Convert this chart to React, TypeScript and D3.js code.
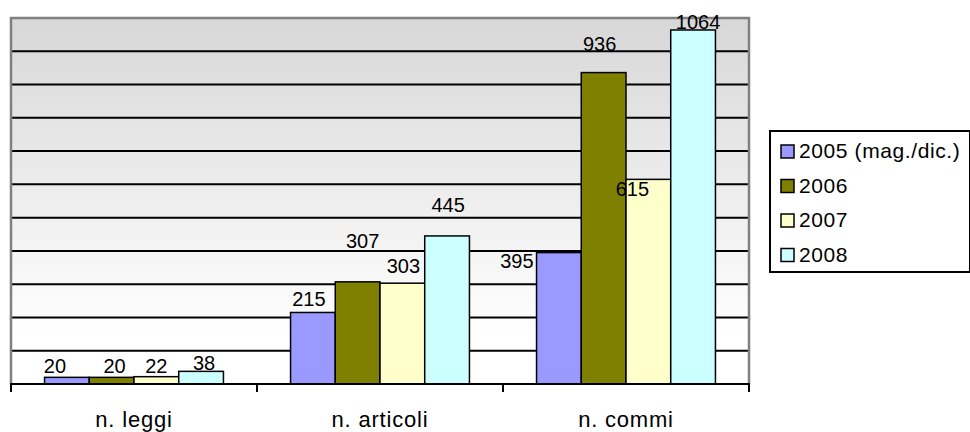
import React from 'react'
import * as d3 from 'd3'

// chart data
const categories = ['n. leggi', 'n. articoli', 'n. commi']
const seriesNames = ['2005 (mag./dic.)', '2006', '2007', '2008']
const seriesColors = ['#9999ff', '#808000', '#ffffcc', '#ccffff']
const values2005 = [20, 215, 395]
const values2006 = [20, 307, 936]
const values2007 = [22, 303, 615]
const values2008 = [38, 445, 1064]
const yTicks = [0, 100, 200, 300, 400, 500, 600, 700, 800, 900, 1000, 1100]

const seriesValues = [values2005, values2006, values2007, values2008]

// label nudges (Excel placed some labels by hand): [dx, baseline offset from bar top]
const labelNudge: [number, number][][] = [
  [[-12, -4], [-4, -6], [-42, 15]],
  [[3, -4], [5, -34], [-4, -22]],
  [[0, -3.5], [1, -10], [-16, 17]],
  [[3, -1.5], [1, -24], [5, -1]],
]

const W = 970
const H = 432
const plot = { left: 11, right: 749, top: 18, bottom: 384 }
const FONT = '"Liberation Sans", Arial, sans-serif'

export default function App() {
  const x0 = d3.scaleBand<string>().domain(categories).range([plot.left, plot.right]).padding(0)
  const x1 = d3
    .scaleBand<string>()
    .domain(seriesNames)
    .range([0, x0.bandwidth()])
    .paddingInner(0)
    .paddingOuter(0.75)
  const y = d3.scaleLinear().domain([0, 1100]).range([plot.bottom, plot.top])

  const tickXs = [...categories.map(c => x0(c)!), plot.right]

  return (
    <svg
      width={W}
      height={H}
      style={{ position: 'absolute', left: 0, top: 0, background: '#fff' }}
      fontFamily={FONT}
    >
      <defs>
        <linearGradient id="bg" x1="0" y1="0" x2="0" y2="1">
          <stop offset="0" stopColor="#d7d7d7" />
          <stop offset="0.87" stopColor="#ffffff" />
          <stop offset="1" stopColor="#ffffff" />
        </linearGradient>
      </defs>

      {/* plot background */}
      <rect
        x={plot.left}
        y={plot.top}
        width={plot.right - plot.left}
        height={plot.bottom - plot.top}
        fill="url(#bg)"
      />

      {/* gridlines */}
      {yTicks.slice(1, -1).map(t => (
        <line key={t} x1={plot.left} x2={plot.right} y1={y(t)} y2={y(t)} stroke="#000" strokeWidth={2} />
      ))}

      {/* gray frame top / left / right */}
      <path
        d={`M${plot.left},${plot.bottom} V${plot.top} H${plot.right} V${plot.bottom}`}
        fill="none"
        stroke="#808080"
        strokeWidth={2.5}
      />

      {/* bars */}
      {categories.map((c, ci) =>
        seriesNames.map((s, si) => {
          const v = seriesValues[si][ci]
          return (
            <rect
              key={`${c}-${s}`}
              x={x0(c)! + x1(s)!}
              y={y(v)}
              width={x1.bandwidth()}
              height={y(0) - y(v)}
              fill={seriesColors[si]}
              stroke="#000"
              strokeWidth={1.5}
            />
          )
        })
      )}

      {/* x axis */}
      <line x1={plot.left - 1} x2={plot.right + 1} y1={plot.bottom} y2={plot.bottom} stroke="#000" strokeWidth={2} />
      {tickXs.map((tx, i) => (
        <line key={i} x1={tx} x2={tx} y1={plot.bottom} y2={plot.bottom + 8} stroke="#000" strokeWidth={2} />
      ))}

      {/* data labels */}
      {categories.map((c, ci) =>
        seriesNames.map((s, si) => {
          const v = seriesValues[si][ci]
          const [dx, dy] = labelNudge[si][ci]
          return (
            <text
              key={`l-${c}-${s}`}
              x={x0(c)! + x1(s)! + x1.bandwidth() / 2 + dx}
              y={y(v) + dy}
              textAnchor="middle"
              fontSize={20}
              fill="#000"
            >
              {v}
            </text>
          )
        })
      )}

      {/* category labels */}
      {categories.map(c => (
        <text
          key={c}
          x={x0(c)! + x0.bandwidth() / 2}
          y={427}
          textAnchor="middle"
          fontSize={22}
          letterSpacing={0.8}
          fill="#000"
        >
          {c}
        </text>
      ))}

      {/* legend */}
      <rect x={770} y={131} width={200} height={141} fill="#fff" stroke="#000" strokeWidth={2} />
      {seriesNames.map((s, i) => {
        const base = 158 + i * 34.5
        return (
          <g key={s}>
            <rect x={781} y={base - 13} width={13} height={13} fill={seriesColors[i]} stroke="#000" strokeWidth={1.5} />
            <text x={799} y={base} fontSize={21} letterSpacing={0.6} fill="#000">
              {s}
            </text>
          </g>
        )
      })}
    </svg>
  )
}
